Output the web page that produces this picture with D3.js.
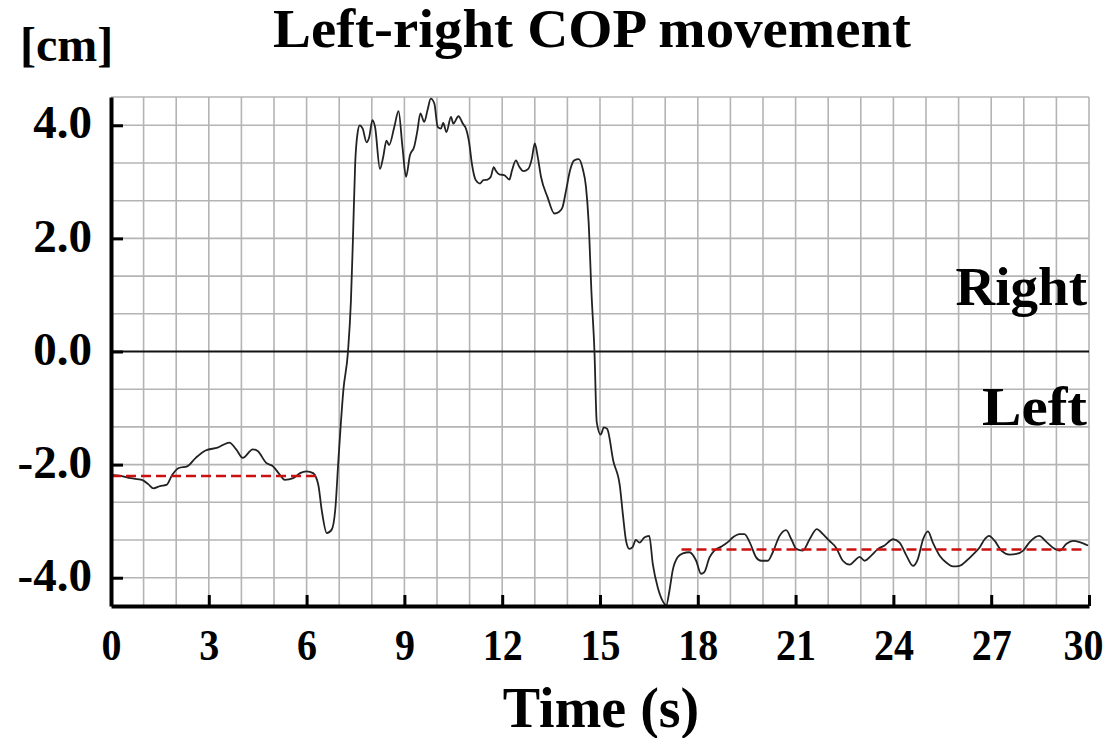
<!DOCTYPE html>
<html>
<head>
<meta charset="utf-8">
<script src="https://cdn.jsdelivr.net/npm/d3@7"></script>
<style>
  body { margin: 0; background: #fff; }
  svg { display: block; }
  text { font-family: "Liberation Serif", "Times New Roman", serif; font-weight: bold; fill: #000; }
</style>
</head>
<body>
<svg id="chart" width="1110" height="738"></svg>
<script>
// COP trace
const timeS = [
  0.00, 0.30, 0.60, 0.95, 1.15, 1.30, 1.50, 1.70, 1.88, 2.08, 2.34, 2.60, 2.90, 3.27, 3.63, 3.84,
  4.04, 4.35, 4.50, 4.76, 4.97, 5.18, 5.33, 5.59, 5.80, 6.00, 6.20, 6.36, 6.46, 6.62, 6.77, 6.88,
  6.98, 7.13, 7.27, 7.36, 7.42, 7.49, 7.56, 7.63, 7.72, 7.84, 7.92, 8.02, 8.10, 8.25, 8.35, 8.45,
  8.53, 8.69, 8.82, 8.94, 9.05, 9.17, 9.30, 9.40, 9.49, 9.61, 9.71, 9.81, 9.92, 10.02, 10.12, 10.19,
  10.29, 10.43, 10.50, 10.66, 10.79, 10.89, 10.99, 11.07, 11.19, 11.32, 11.42, 11.55, 11.65, 11.74,
  11.81, 11.91, 12.06, 12.22, 12.30, 12.42, 12.52, 12.65, 12.80, 12.91, 13.00, 13.09, 13.19, 13.39,
  13.60, 13.75, 13.85, 13.96, 14.08, 14.21, 14.35, 14.47, 14.57, 14.65, 14.74, 14.83, 14.90, 15.02,
  15.12, 15.22, 15.41, 15.61, 15.70, 15.80, 15.90, 16.00, 16.10, 16.21, 16.36, 16.51, 16.62, 16.77,
  16.92, 17.03, 17.13, 17.23, 17.38, 17.54, 17.74, 17.95, 18.10, 18.20, 18.36, 18.51, 18.72, 18.92,
  19.07, 19.28, 19.43, 19.59, 19.79, 19.94, 20.15, 20.30, 20.51, 20.71, 20.87, 21.02, 21.22, 21.43,
  21.65, 21.84, 22.04, 22.23, 22.45, 22.66, 22.81, 22.96, 23.12, 23.32, 23.53, 23.73, 23.99, 24.19,
  24.40, 24.60, 24.75, 24.91, 25.06, 25.21, 25.42, 25.62, 25.83, 26.03, 26.24, 26.44, 26.65, 26.80,
  26.93, 27.11, 27.31, 27.57, 27.77, 27.98, 28.18, 28.47, 28.70, 28.95, 29.10, 29.31, 29.51, 29.71,
  29.97
];
const copCm = [
  -2.18, -2.20, -2.24, -2.27, -2.35, -2.42, -2.38, -2.36, -2.18, -2.06, -2.03, -1.88, -1.75, -1.70, -1.61, -1.73,
  -1.88, -1.73, -1.76, -1.97, -2.03, -2.18, -2.27, -2.24, -2.15, -2.12, -2.15, -2.36, -2.79, -3.21, -3.15, -2.79,
  -1.88, -0.67, 0.00, 0.90, 1.96, 3.32, 3.85, 4.00, 3.94, 3.70, 3.79, 4.09, 3.97, 3.23, 3.44, 3.73,
  3.65, 3.97, 4.25, 3.62, 3.09, 3.47, 3.62, 3.91, 4.21, 4.06, 4.27, 4.47, 4.38, 3.97, 3.94, 4.04,
  3.88, 4.15, 4.03, 4.16, 4.03, 3.94, 3.68, 3.32, 3.03, 2.97, 3.03, 3.04, 3.09, 3.26,
  3.19, 3.13, 3.12, 3.04, 3.20, 3.38, 3.27, 3.19, 3.23, 3.41, 3.68, 3.44, 3.09, 2.73,
  2.44, 2.47, 2.55, 2.85, 3.20, 3.38, 3.40, 3.23, 2.91, 2.30, 1.02, 0.00, -1.25, -1.47,
  -1.34, -1.37, -1.94, -2.38, -2.87, -3.35, -3.49, -3.46, -3.33, -3.38, -3.29, -3.26, -3.76, -4.17,
  -4.41, -4.49, -4.23, -3.87, -3.64, -3.57, -3.55, -3.70, -3.93, -3.90, -3.64, -3.52, -3.45, -3.37,
  -3.29, -3.23, -3.23, -3.37, -3.64, -3.70, -3.70, -3.55, -3.26, -3.16, -3.32, -3.49, -3.52, -3.32,
  -3.14, -3.23, -3.35, -3.46, -3.70, -3.77, -3.70, -3.63, -3.70, -3.61, -3.49, -3.43, -3.32, -3.38,
  -3.61, -3.79, -3.67, -3.32, -3.18, -3.38, -3.61, -3.73, -3.80, -3.79, -3.70, -3.59, -3.46, -3.32,
  -3.26, -3.35, -3.52, -3.59, -3.58, -3.52, -3.37, -3.26, -3.37, -3.49, -3.52, -3.40, -3.35, -3.37,
  -3.43
];

// mean levels before and after the shift (red dashed)
const meanStart = [0, 17.5];
const meanEnd = [6.4, 29.9];
const meanValue = [-2.2, -3.5];

const xTicks = [0, 3, 6, 9, 12, 15, 18, 21, 24, 27, 30];
const yTicks = [-4, -2, 0, 2, 4];

const svg = d3.select("#chart");
const plotLeft = 111, plotRight = 1089, plotTop = 97, plotBottom = 606;

const x = d3.scaleLinear().domain([0, 30]).range([plotLeft, plotRight]);
const y = d3.scaleLinear().domain([-4.5, 4.5]).range([plotBottom, plotTop]);

// grid
const vGrid = d3.range(1, 31);
const hGrid = d3.range(-6, 7).map(i => i * 2 / 3).filter(v => Math.abs(v) > 0.01).concat([4.5]);

svg.append("g").selectAll("line")
  .data(vGrid)
  .enter().append("line")
  .attr("x1", d => x(d)).attr("x2", d => x(d))
  .attr("y1", y(4.5)).attr("y2", y(-4.5))
  .style("stroke", "#b4b4b4").style("stroke-width", 1.6);

svg.append("g").selectAll("line")
  .data(hGrid)
  .enter().append("line")
  .attr("x1", x(0)).attr("x2", x(30))
  .attr("y1", d => y(d)).attr("y2", d => y(d))
  .style("stroke", "#b4b4b4").style("stroke-width", 1.6);

// zero line
svg.append("line")
  .attr("x1", x(0)).attr("x2", x(30))
  .attr("y1", y(0)).attr("y2", y(0))
  .style("stroke", "#111").style("stroke-width", 1.8);

// signal
const line = d3.line()
  .x(d => x(d[0]))
  .y(d => y(d[1]))
  .curve(d3.curveMonotoneX);

svg.append("path")
  .datum(timeS.map((t, i) => [t, copCm[i]]))
  .attr("d", line)
  .style("fill", "none")
  .style("stroke", "#222")
  .style("stroke-width", 1.8);

// mean lines
svg.append("g").selectAll("line")
  .data(meanValue)
  .enter().append("line")
  .attr("x1", (d, i) => x(meanStart[i]))
  .attr("x2", (d, i) => x(meanEnd[i]))
  .attr("y1", d => y(d)).attr("y2", d => y(d))
  .style("stroke", "#cc1010")
  .style("stroke-width", 2.5)
  .style("stroke-dasharray", "10,5");

// axes
const xAxis = d3.axisBottom(x).tickValues(xTicks).tickSize(-11).tickSizeOuter(0).tickPadding(22)
  .tickFormat(d3.format("d"));
const yAxis = d3.axisLeft(y).tickValues(yTicks).tickSize(-12).tickSizeOuter(0).tickPadding(19)
  .tickFormat(d => d.toFixed(1));

const gx = svg.append("g").attr("transform", `translate(0,${plotBottom})`).call(xAxis);
const gy = svg.append("g").attr("transform", `translate(${plotLeft},0)`).call(yAxis);

[gx, gy].forEach(g => {
  g.attr("font-family", null).attr("font-size", null);
  g.select(".domain").style("stroke", "#000").style("stroke-width", 4);
  g.selectAll(".tick line").style("stroke", "#000").style("stroke-width", 3);
});
gx.selectAll(".tick text")
  .style("font-size", "45px")
  .attr("textLength", d => String(d).length * 20)
  .attr("lengthAdjust", "spacingAndGlyphs")
  .attr("dx", d => d === 30 ? -6 : 0);  // keep last label inside the page
gy.selectAll(".tick text").style("font-size", "47px").attr("dy", "0.27em");

// texts
svg.append("text")
  .attr("x", 592).attr("y", 47)
  .attr("text-anchor", "middle")
  .attr("textLength", 638).attr("lengthAdjust", "spacingAndGlyphs")
  .style("font-size", "54px")
  .text("Left-right COP movement");

svg.append("text")
  .attr("x", 20).attr("y", 61)
  .style("font-size", "48px")
  .text("[cm]");

svg.append("text")
  .attr("x", 1087).attr("y", 305)
  .attr("text-anchor", "end")
  .style("font-size", "55px")
  .text("Right");

svg.append("text")
  .attr("x", 1087).attr("y", 425)
  .attr("text-anchor", "end")
  .attr("textLength", 105).attr("lengthAdjust", "spacingAndGlyphs")
  .style("font-size", "55px")
  .text("Left");

svg.append("text")
  .attr("x", 601).attr("y", 727)
  .attr("text-anchor", "middle")
  .style("font-size", "56px")
  .text("Time (s)");
</script>
</body>
</html>
